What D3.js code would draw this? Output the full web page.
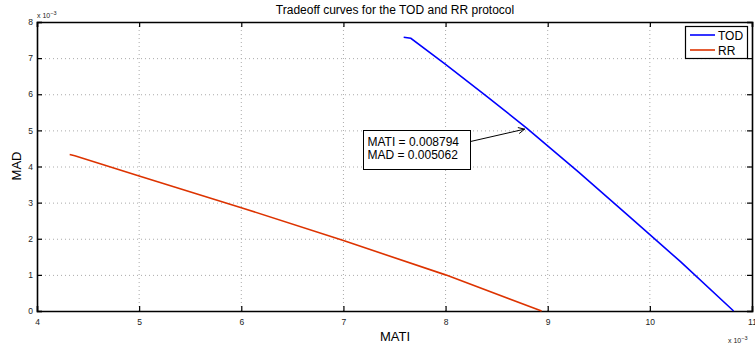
<!DOCTYPE html>
<html><head><meta charset="utf-8">
<script src="https://cdn.jsdelivr.net/npm/d3@7"></script>
<style>body{margin:0;background:#fff}svg{display:block;font-family:"Liberation Sans",Arial,sans-serif}</style>
</head><body><svg id="c" width="755" height="349"></svg>
<script>
const todX = [7.59, 7.66, 8.0, 8.4, 8.794, 9.3, 9.8, 10.3, 10.82];
const todY = [7.58, 7.55, 6.83, 5.95, 5.062, 3.85, 2.615, 1.365, 0];
const rrX = [4.32, 4.37, 5, 6, 7, 8, 8.94];
const rrY = [4.33, 4.30, 3.74, 2.86, 1.95, 1.0, 0];
const xTicks = [4, 5, 6, 7, 8, 9, 10, 11];
const yTicks = [0, 1, 2, 3, 4, 5, 6, 7, 8];
const seriesNames = ["TOD", "RR"];
const colors = ["#0000ff", "#dd3300"];
const annotation = {x: 8.794, y: 5.062, lines: ["MATI = 0.008794", "MAD = 0.005062"]};

const svg = d3.select("#c");
const L = 37, R = 752, T = 22, B = 311;
const x = d3.scaleLinear().domain([4, 11]).range([L, R]);
const y = d3.scaleLinear().domain([0, 8]).range([B, T]);

// grid
const g = svg.append("g");
g.selectAll(".gx").data(xTicks.slice(1, -1)).join("line")
  .attr("x1", d => x(d)).attr("x2", d => x(d)).attr("y1", T).attr("y2", B)
  .attr("stroke", "#aaa").attr("stroke-width", 1).attr("stroke-dasharray", "1,3");
g.selectAll(".gy").data(yTicks.slice(1, -1)).join("line")
  .attr("y1", d => y(d) + 0.5).attr("y2", d => y(d) + 0.5).attr("x1", L).attr("x2", R)
  .attr("stroke", "#aaa").attr("stroke-width", 1).attr("stroke-dasharray", "1,3");

// axes
const xb = svg.append("g").attr("transform", `translate(0,${B})`)
  .call(d3.axisBottom(x).tickValues(xTicks).tickSize(-5).tickPadding(8).tickFormat(d3.format("d")));
const xt = svg.append("g").attr("transform", `translate(0,${T})`)
  .call(d3.axisTop(x).tickValues(xTicks).tickSize(-5).tickFormat(""));
const yl = svg.append("g").attr("transform", `translate(${L},0)`)
  .call(d3.axisLeft(y).tickValues(yTicks).tickSize(-5).tickPadding(4).tickFormat(d3.format("d")));
const yr = svg.append("g").attr("transform", `translate(${R},0)`)
  .call(d3.axisRight(y).tickValues(yTicks).tickSize(-5).tickFormat(""));
[xb, xt, yl, yr].forEach(a => {
  a.select(".domain").attr("stroke", "#000").attr("stroke-width", 1.6);
  a.selectAll(".tick line").attr("stroke", "#000").attr("stroke-width", 1.2);
  a.selectAll("text").attr("font-size", 8.5).attr("fill", "#222")
    .style("font-family", '"Liberation Sans",Arial,sans-serif');
});

// lines
const line = d3.line().x(d => x(d[0])).y(d => y(d[1]));
const data = [d3.zip(todX, todY), d3.zip(rrX, rrY)];
svg.selectAll(".series").data(data).join("path")
  .attr("d", line).attr("fill", "none")
  .attr("stroke", (d, i) => colors[i]).attr("stroke-width", 1.6);

// title & labels
svg.append("text").attr("x", 395).attr("y", 14).attr("text-anchor", "middle")
  .attr("font-size", 12).text("Tradeoff curves for the TOD and RR protocol");
svg.append("text").attr("x", 395).attr("y", 341).attr("text-anchor", "middle")
  .attr("font-size", 13).text("MATI");
svg.append("text").attr("transform", "translate(21,166) rotate(-90)").attr("text-anchor", "middle")
  .attr("font-size", 13).text("MAD");
function exp10(xp, yp) {
  const t = svg.append("text").attr("x", xp).attr("y", yp).attr("font-size", 7).attr("fill", "#222");
  t.append("tspan").text("x 10");
  t.append("tspan").attr("dy", -3).attr("font-size", 5.5).text("\u22123");
}
exp10(37, 18);
exp10(728, 343);

// legend
const lg = svg.append("g");
lg.append("rect").attr("x", 685.5).attr("y", 26.5).attr("width", 62).attr("height", 32)
  .attr("fill", "#fff").attr("stroke", "#000").attr("stroke-width", 1.2);
seriesNames.forEach((n, i) => {
  const yy = 35 + i * 15;
  lg.append("line").attr("x1", 690).attr("x2", 715).attr("y1", yy).attr("y2", yy)
    .attr("stroke", colors[i]).attr("stroke-width", 1.6);
  lg.append("text").attr("x", 718).attr("y", yy + 4.5).attr("font-size", 12).text(n);
});

// annotation
const ax = x(annotation.x), ay = y(annotation.y);
const bx = 363.5, by = 130.5, bw = 107, bh = 39;
svg.append("line").attr("x1", bx + bw).attr("y1", by + 11).attr("x2", ax - 2).attr("y2", ay + 1)
  .attr("stroke", "#000").attr("stroke-width", 1);
const ang = Math.atan2((ay + 1) - (by + 11), (ax - 2) - (bx + bw));
[0.45, -0.45].forEach(da => {
  svg.append("line").attr("x1", ax - 2).attr("y1", ay + 1)
    .attr("x2", ax - 2 - 7 * Math.cos(ang + da)).attr("y2", ay + 1 - 7 * Math.sin(ang + da))
    .attr("stroke", "#000").attr("stroke-width", 1);
});
svg.append("rect").attr("x", bx).attr("y", by).attr("width", bw).attr("height", bh)
  .attr("fill", "#fff").attr("stroke", "#000").attr("stroke-width", 1);
annotation.lines.forEach((t, i) => {
  svg.append("text").attr("x", bx + 4).attr("y", by + 15.5 + i * 12.5).attr("font-size", 12).text(t);
});
</script></body></html>
